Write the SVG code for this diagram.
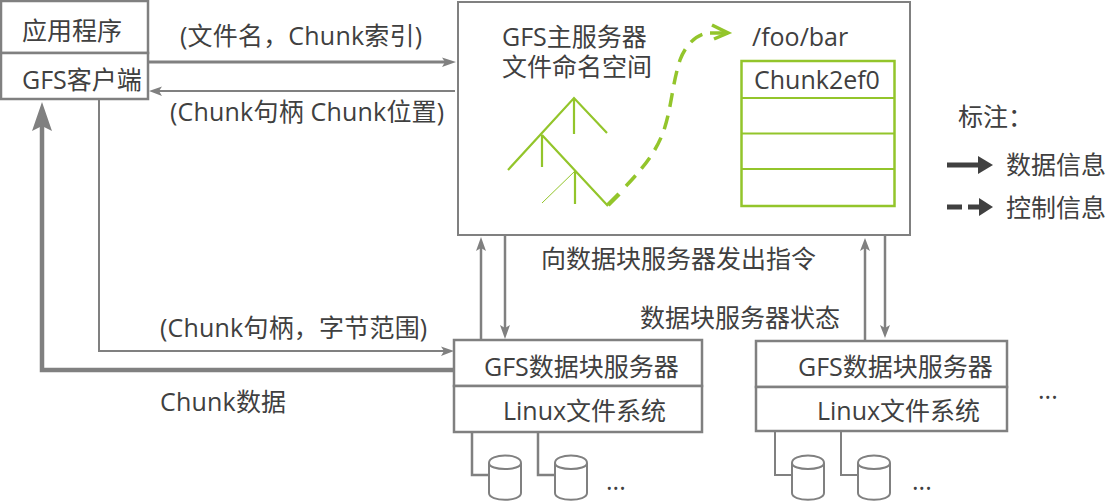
<svg xmlns="http://www.w3.org/2000/svg" width="1120" height="504" viewBox="0 0 1120 504">
<style>
text{font-family:"Open Sans","Noto Sans CJK SC",sans-serif;font-size:25px;fill:#404040}
.w{letter-spacing:.2px}
.b{fill:#fff;stroke:#808080;stroke-width:2.5}
.l{fill:none;stroke:#808080;stroke-width:2}
.g{fill:none;stroke:#93c52b;stroke-width:2.200}
.a{fill:#808080}
.c{fill:#fff;stroke:#808080;stroke-width:2}
</style>
<rect width="1120" height="504" fill="#fff"/>
<g id="connectors">
<path class="l" style="stroke-width:3" d="M148 62H446"/><path class="a" d="M456 62L442 57.500L445 62L442 67Z"/>
<path class="l" d="M455 91H158"/><path class="a" d="M149 91L162 86.500L159 91L162 96Z"/>
<path class="l" d="M99 100V351H444"/><path class="a" d="M454 351L441 346.500L444 351L441 356Z"/>
<path d="M455 370H42V125" fill="none" stroke="#808080" stroke-width="4.500"/><path class="a" d="M42 102L32 131L42 126L52 131Z"/>
<path class="l" style="stroke-width:2.500" d="M481 339V245"/><path class="a" d="M481 237L476 251L481 248L486 251Z"/>
<path class="l" style="stroke-width:2.500" d="M505 236V331"/><path class="a" d="M505 339L500 325L505 328L510 325Z"/>
<path class="l" style="stroke-width:2.500" d="M865 341V245"/><path class="a" d="M865 238L860 251L865 248L870 251Z"/>
<path class="l" style="stroke-width:2.500" d="M885 236V331"/><path class="a" d="M885 338L880 325L885 328L890 325Z"/>
<path class="l" style="stroke-width:2.500" d="M472 432V475H490M538 432V475H556"/>
<path class="l" d="M775 431V475H793M841 431V475H859"/>
</g>
<g id="app"><rect class="b" x="1" y="1" width="147" height="52"/><text x="22" y="40">应用程序</text></g>
<g id="client"><rect class="b" x="1" y="53" width="147" height="46"/><text x="22" y="89">GFS客户端</text></g>
<text class="w" x="180" y="45">(文件名，Chunk索引)</text>
<text class="w" x="170" y="121">(Chunk句柄 Chunk位置)</text>
<text class="w" x="160" y="337">(Chunk句柄，字节范围)</text>
<text class="w" x="160" y="411">Chunk数据</text>
<text x="541" y="268">向数据块服务器发出指令</text>
<text x="640" y="327">数据块服务器状态</text>
<g id="master">
<rect class="b" style="stroke-width:2" x="458" y="2" width="452" height="233"/>
<text><tspan x="502" y="46">GFS主服务器</tspan><tspan x="502" y="76">文件命名空间</tspan></text>
<path class="g" d="M508 170L574 98L607 133M574 98V134M542 135V167M542 135L608 206M575 171V204"/>
<path d="M575 171L542 203" fill="none" stroke="#93c52b" stroke-width="1"/>
<path d="M608 205L619 194" fill="none" stroke="#93c52b" stroke-width="4.500"/>
<path d="M626 186C645 166 657 150 664 130C672 105 672 85 680 60C686 44 697 34 708 33" fill="none" stroke="#93c52b" stroke-width="3.500" stroke-dasharray="14 9"/>
<path d="M712 25L728 33L714 39" fill="none" stroke="#93c52b" stroke-width="3.500"/><path d="M710 33H728" stroke="#93c52b" stroke-width="3.500"/>
<text x="752" y="46">/foo/bar</text>
<rect class="g" style="stroke-width:2.500" x="741.500" y="61" width="153" height="145"/>
<path class="g" d="M741 98H894M741 133.500H894M741 169H894"/>
<text x="754" y="89">Chunk2ef0</text>
</g>
<g id="cs1">
<rect class="b" x="454" y="340" width="248" height="46"/><rect class="b" x="454" y="386" width="248" height="46"/>
<text x="484" y="376">GFS数据块服务器</text><text x="503" y="420">Linux文件系统</text>
<path class="c" d="M489 463V493C489 502 521 502 521 493V463C521 453 489 453 489 463C489 471 521 471 521 463"/>
<path class="c" d="M555 463V493C555 502 587 502 587 493V463C587 453 555 453 555 463C555 471 587 471 587 463"/>
<text x="606" y="490">...</text>
</g>
<g id="cs2">
<rect class="b" x="756" y="341" width="251" height="46"/><rect class="b" x="756" y="387" width="251" height="44"/>
<text x="798" y="376">GFS数据块服务器</text><text x="817" y="420">Linux文件系统</text>
<path class="c" d="M792 463V493C792 502 824 502 824 493V463C824 453 792 453 792 463C792 471 824 471 824 463"/>
<path class="c" d="M858 463V493C858 502 890 502 890 493V463C890 453 858 453 858 463C858 471 890 471 890 463"/>
<text x="912" y="490">...</text>
<text x="1038" y="399">...</text>
</g>
<g id="legend">
<text x="958" y="126">标注：</text>
<path d="M947 165H980" stroke="#404040" stroke-width="5"/><path d="M993 165L978 156V174Z" fill="#404040"/>
<text x="1006" y="174">数据信息</text>
<path d="M947 207H962M968 207H982" stroke="#404040" stroke-width="5"/><path d="M993 207L979 198V216Z" fill="#404040"/>
<text x="1006" y="217">控制信息</text>
</g>
</svg>
